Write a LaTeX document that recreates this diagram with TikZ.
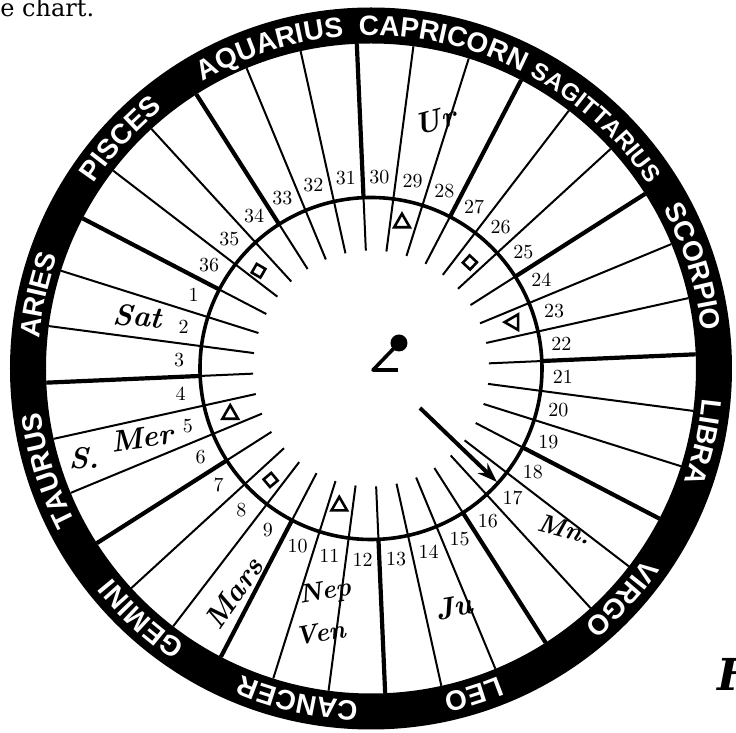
\documentclass[tikz,border=0pt]{standalone}
\usepackage{fontspec}
\newfontfamily\signfont{Liberation Sans}
\newfontfamily\pagefont{DejaVu Serif}
\usetikzlibrary{decorations.text,shapes.geometric,arrows.meta}

\begin{document}
\begin{tikzpicture}[
    x=0.5pt, y=0.5pt,
    spoke/.style={line width=1pt},
    bigspoke/.style={line width=2.1pt},
    num/.style={font=\fontsize{10}{11}\selectfont, inner sep=0pt},
    planet/.style={font=\fontsize{15}{16}\selectfont\bfseries\itshape, inner sep=0pt},
    aspect/.style={draw, line width=1.3pt, inner sep=0pt},
    trine/.style={aspect, regular polygon, regular polygon sides=3, minimum size=9pt},
    quad/.style={aspect, rectangle, minimum size=5pt},
    sign/.style 2 args={decorate, decoration={text along path, text align=center,
        text color=white, text={|\signfont\bfseries\fontsize{#1}{#1}\selectfont|#2}}}
]
\useasboundingbox (-371,-364.5) rectangle (365,368.5);
\fill[even odd rule] (0,0) circle (361) (0,0) circle (325);
\foreach \i in {0,...,35}
    \draw[spoke] ({10*\i+2.5}:118) -- ({10*\i+2.5}:325);
\foreach \i in {0,3,...,33}
    \draw[bigspoke] ({10*\i+2.5}:171) -- ({10*\i+2.5}:325);
\draw[line width=1.8pt] (0,0) circle (171);
\foreach \n in {1,...,36}
    \node[num] (n\n) at ({10*\n-212.5}:192) {\n};

\path[sign={14}{CAPRICORN}] (102.5:333) arc[start angle=102.5, end angle=52.5, radius=333];
\path[sign={14}{AQUARIUS}] (132.5:333) arc[start angle=132.5, end angle=82.5, radius=333];
\path[sign={14}{PISCES}] (162.5:333) arc[start angle=162.5, end angle=112.5, radius=333];
\path[sign={14}{ARIES}] (192.5:333) arc[start angle=192.5, end angle=142.5, radius=333];
\path[sign={14}{TAURUS}] (222.5:333) arc[start angle=222.5, end angle=172.5, radius=333];
\path[sign={14}{GEMINI}] (252.5:333) arc[start angle=252.5, end angle=202.5, radius=333];
\path[sign={14}{CANCER}] (282.5:333) arc[start angle=282.5, end angle=232.5, radius=333];
\path[sign={14}{LEO}] (312.5:333) arc[start angle=312.5, end angle=262.5, radius=333];
\path[sign={14}{VIRGO}] (342.5:333) arc[start angle=342.5, end angle=292.5, radius=333];
\path[sign={14}{LIBRA}] (12.5:333) arc[start angle=12.5, end angle=-37.5, radius=333];
\path[sign={14}{SCORPIO}] (42.5:333) arc[start angle=42.5, end angle=-7.5, radius=333];
\path[sign={12}{SAGITTARIUS}] (72.5:333) arc[start angle=72.5, end angle=22.5, radius=333];

\node[trine] (tri29) at (78:149) {};
\node[quad, rotate=47] (quad26) at (47:145) {};
\node[trine, shape border rotate=90] (tri23) at (18:150) {};
\node[quad, rotate=-30] (quad35) at (139:149) {};
\node[trine] (tri5) at (198:148) {};
\node[quad, rotate=40] (quad8) at (228:150) {};
\node[trine] (tri11) at (257:141) {};

\node[planet, rotate=15] (ur) at (64,248.5) {Ur};
\node[planet, rotate=-5] (sat) at (-233,52.5) {Sat};
\node[planet] (south) at (-287,-89.5) {S.};
\node[planet, rotate=8] (mer) at (-229,-69.5) {Mer};
\node[planet, rotate=55] (mars) at (-137,-224.5) {Mars};
\node[planet, font=\fontsize{13}{14}\selectfont\bfseries\itshape, rotate=10] (nep) at (-46,-224.5) {Nep};
\node[planet, font=\fontsize{13}{14}\selectfont\bfseries\itshape, rotate=10] (ven) at (-51,-264.5) {Ven};
\node[planet, rotate=10] (ju) at (83,-238.5) {Ju};
\node[planet, font=\fontsize{13}{14}\selectfont\bfseries\itshape, rotate=-15] (mn) at (194,-160.5) {Mn.};

\node[circle, fill, minimum size=8.5pt, inner sep=0pt] (knob) at (28,25.5) {};
\coordinate (pivot) at (2,-1.5);
\coordinate (tail) at (27,-1.5);
\draw[line width=1.8pt, line join=round] (knob.center) -- (pivot) -- (tail);

\coordinate (arrowbase) at (49,-39.5);
\coordinate (arrowtip) at (126,-113.5);
\draw[line width=2pt, -{Stealth[length=10pt, width=7pt]}] (arrowbase) -- (arrowtip);

\node[anchor=base west, inner sep=0pt, font=\pagefont\fontsize{12}{14}\selectfont] (pagetext) at (-371,351.5) {e chart.};
\node[anchor=west, inner sep=0pt, font=\pagefont\bfseries\itshape\fontsize{22}{24}\selectfont] (figmark) at (346,-305.5) {F};
\end{tikzpicture}
\end{document}
